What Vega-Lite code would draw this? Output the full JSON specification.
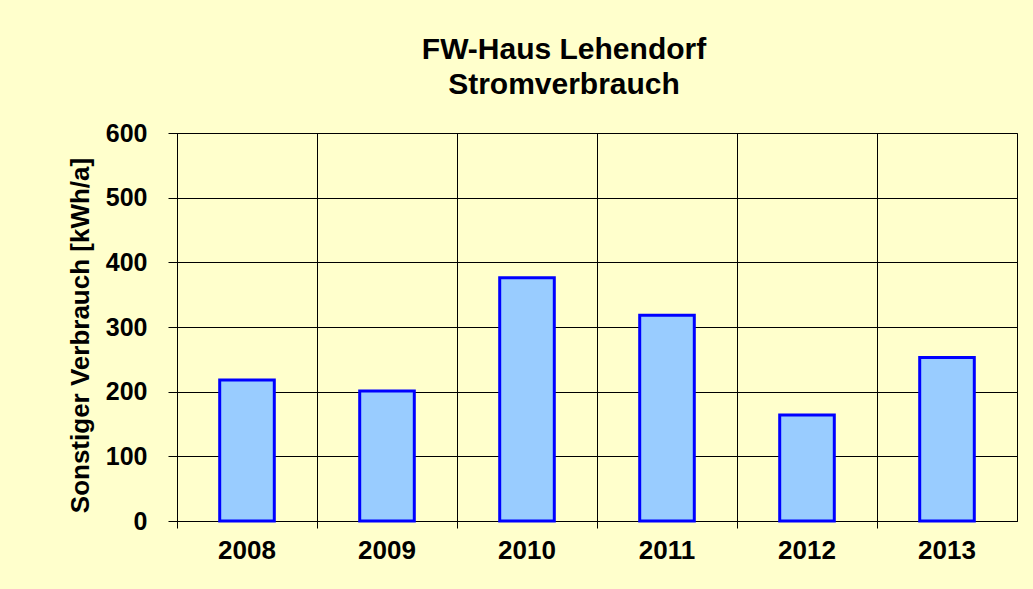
{
  "$schema": "https://vega.github.io/schema/vega-lite/v6.json",
  "width": 840,
  "height": 388,
  "autosize": "none",
  "padding": {"left": 177, "top": 133, "right": 16, "bottom": 68},
  "background": "#FFFFCC",
  "title": {
    "text": ["FW-Haus Lehendorf", "Stromverbrauch"],
    "font": "Liberation Sans",
    "fontSize": 30,
    "fontWeight": "bold",
    "color": "#000000",
    "lineHeight": 35,
    "anchor": "middle",
    "dx": -33,
    "offset": 21
  },
  "config": {
    "view": {"stroke": "#000000", "strokeWidth": 1}
  },
  "data": {
    "values": [
      {"Jahr": "2008", "Verbrauch": 218},
      {"Jahr": "2009", "Verbrauch": 201},
      {"Jahr": "2010", "Verbrauch": 376},
      {"Jahr": "2011", "Verbrauch": 318},
      {"Jahr": "2012", "Verbrauch": 164},
      {"Jahr": "2013", "Verbrauch": 253}
    ]
  },
  "mark": {
    "type": "bar",
    "fill": "#99CCFF",
    "stroke": "#0000FF",
    "strokeWidth": 3,
    "width": {"band": 0.39}
  },
  "encoding": {
    "x": {
      "field": "Jahr",
      "type": "ordinal",
      "scale": {"paddingInner": 0, "paddingOuter": 0},
      "axis": {
        "title": null,
        "labelAngle": 0,
        "bandPosition": 0,
        "grid": true,
        "gridColor": "#000000",
        "gridOpacity": 1,
        "gridWidth": 1,
        "ticks": true,
        "tickColor": "#000000",
        "tickSize": 7,
        "domainColor": "#000000",
        "labelFont": "Liberation Sans",
        "labelFontSize": 26,
        "labelFontWeight": "bold",
        "labelColor": "#000000",
        "labelPadding": 9
      }
    },
    "y": {
      "field": "Verbrauch",
      "type": "quantitative",
      "scale": {"domain": [0, 600], "nice": false},
      "axis": {
        "values": [0, 100, 200, 300, 400, 500, 600],
        "title": "Sonstiger Verbrauch [kWh/a]",
        "titleFont": "Liberation Sans",
        "titleFontSize": 26,
        "titleFontWeight": "bold",
        "titleColor": "#000000",
        "titlePadding": 12,
        "titleY": 202,
        "grid": true,
        "gridColor": "#000000",
        "gridOpacity": 1,
        "gridWidth": 1,
        "tickColor": "#000000",
        "tickSize": 9,
        "domainColor": "#000000",
        "labelFont": "Liberation Sans",
        "labelFontSize": 25,
        "labelFontWeight": "bold",
        "labelColor": "#000000",
        "labelPadding": 21
      }
    }
  }
}
